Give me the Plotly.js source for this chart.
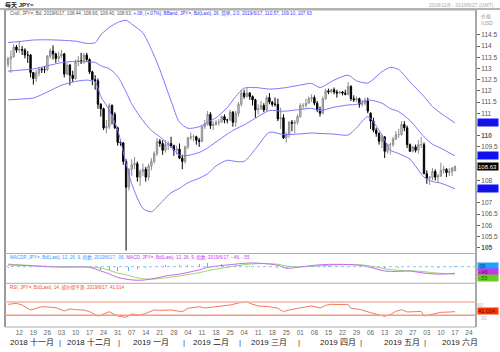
<!DOCTYPE html>
<html><head><meta charset="utf-8">
<script src="https://cdn.plot.ly/plotly-3.0.1.min.js"></script>
<style>html,body{margin:0;padding:0;background:#fff;}#chart{width:500px;height:352px;}</style>
</head><body><div id="chart"></div>
<script>
const dates = ["2018-11-06","2018-11-07","2018-11-08","2018-11-09","2018-11-12","2018-11-13","2018-11-14","2018-11-15","2018-11-16","2018-11-19","2018-11-20","2018-11-21","2018-11-22","2018-11-23","2018-11-26","2018-11-27","2018-11-28","2018-11-29","2018-11-30","2018-12-03","2018-12-04","2018-12-05","2018-12-06","2018-12-07","2018-12-10","2018-12-11","2018-12-12","2018-12-13","2018-12-14","2018-12-17","2018-12-18","2018-12-19","2018-12-20","2018-12-21","2018-12-24","2018-12-25","2018-12-26","2018-12-27","2018-12-28","2018-12-31","2019-01-01","2019-01-02","2019-01-03","2019-01-04","2019-01-07","2019-01-08","2019-01-09","2019-01-10","2019-01-11","2019-01-14","2019-01-15","2019-01-16","2019-01-17","2019-01-18","2019-01-21","2019-01-22","2019-01-23","2019-01-24","2019-01-25","2019-01-28","2019-01-29","2019-01-30","2019-01-31","2019-02-01","2019-02-04","2019-02-05","2019-02-06","2019-02-07","2019-02-08","2019-02-11","2019-02-12","2019-02-13","2019-02-14","2019-02-15","2019-02-18","2019-02-19","2019-02-20","2019-02-21","2019-02-22","2019-02-25","2019-02-26","2019-02-27","2019-02-28","2019-03-01","2019-03-04","2019-03-05","2019-03-06","2019-03-07","2019-03-08","2019-03-11","2019-03-12","2019-03-13","2019-03-14","2019-03-15","2019-03-18","2019-03-19","2019-03-20","2019-03-21","2019-03-22","2019-03-25","2019-03-26","2019-03-27","2019-03-28","2019-03-29","2019-04-01","2019-04-02","2019-04-03","2019-04-04","2019-04-05","2019-04-08","2019-04-09","2019-04-10","2019-04-11","2019-04-12","2019-04-15","2019-04-16","2019-04-17","2019-04-18","2019-04-19","2019-04-22","2019-04-23","2019-04-24","2019-04-25","2019-04-26","2019-04-29","2019-04-30","2019-05-01","2019-05-02","2019-05-03","2019-05-06","2019-05-07","2019-05-08","2019-05-09","2019-05-10","2019-05-13","2019-05-14","2019-05-15","2019-05-16","2019-05-17","2019-05-20","2019-05-21","2019-05-22","2019-05-23","2019-05-24","2019-05-27","2019-05-28","2019-05-29","2019-05-30","2019-05-31","2019-06-03","2019-06-04","2019-06-05","2019-06-06","2019-06-07","2019-06-10","2019-06-11","2019-06-12","2019-06-13","2019-06-14","2019-06-17"];
const openP = [113.18,113.43,113.52,113.96,113.82,113.85,113.82,113.60,113.60,112.82,112.55,112.80,112.98,112.95,112.95,113.55,113.78,113.65,113.45,113.55,113.65,112.75,113.15,112.70,112.55,113.30,113.35,113.30,113.60,113.40,112.85,112.50,112.45,111.40,111.20,110.35,110.40,111.35,110.95,110.35,109.70,109.68,108.85,107.70,108.50,108.70,108.75,108.15,108.40,108.50,108.15,108.65,108.85,109.20,109.75,109.65,109.35,109.60,109.65,109.55,109.35,109.40,109.00,108.85,109.50,109.90,109.95,109.95,109.80,109.75,110.40,110.50,110.95,110.45,110.50,110.60,110.60,110.85,110.70,110.70,111.05,110.60,111.00,111.40,111.90,111.75,111.90,111.75,111.60,111.15,111.20,111.35,111.15,111.70,111.50,111.40,111.40,110.75,110.80,109.90,110.05,110.60,110.55,110.60,110.85,111.35,111.35,111.45,111.65,111.70,111.45,111.15,111.00,111.65,112.00,111.95,112.05,111.95,111.90,111.95,111.90,111.85,112.20,111.65,111.60,111.65,111.40,111.45,111.55,111.00,110.65,110.25,110.10,109.75,109.95,109.30,109.60,109.60,109.85,110.05,110.05,110.50,110.35,109.60,109.30,109.50,109.35,109.60,109.60,108.30,108.10,108.15,108.40,108.15,108.20,108.45,108.50,108.35,108.40,108.44];
const highP = [113.52,113.80,114.08,114.05,114.21,114.00,113.90,113.78,113.65,112.85,112.95,113.08,113.05,113.10,113.60,113.90,114.03,113.70,113.75,113.83,113.70,113.25,113.20,112.90,113.40,113.55,113.70,113.70,113.70,113.45,112.90,112.70,112.55,111.45,111.25,110.70,111.45,111.40,111.05,110.40,109.75,109.70,108.95,108.55,108.95,109.05,108.85,108.50,108.75,108.60,108.75,109.00,109.30,109.90,109.85,109.80,109.80,109.75,109.95,109.60,109.55,109.65,109.15,109.55,109.95,110.15,110.05,110.00,109.90,110.45,110.70,111.10,111.05,110.65,110.70,110.75,110.90,110.95,110.75,111.15,111.10,111.10,111.50,112.05,112.05,112.13,111.95,111.80,111.65,111.40,111.55,111.45,111.80,111.90,111.55,111.70,111.65,111.25,110.95,110.15,110.65,110.70,110.70,110.95,111.45,111.45,111.65,111.75,111.85,111.80,111.55,111.30,111.75,112.10,112.10,112.10,112.15,112.05,112.00,112.00,112.05,112.40,112.25,111.80,111.75,111.70,111.60,111.70,111.70,111.05,110.80,110.35,110.15,110.05,109.95,109.65,109.70,109.95,110.20,110.30,110.65,110.65,110.45,109.65,109.55,109.60,109.80,109.95,109.70,108.45,108.20,108.55,108.50,108.30,108.80,108.65,108.55,108.55,108.60,108.66];
const lowP = [113.05,112.80,113.48,113.70,113.70,113.60,113.45,113.25,112.60,112.28,112.40,112.65,112.80,112.80,112.88,113.45,113.40,113.25,113.30,113.45,112.60,112.70,112.25,112.40,112.50,113.10,113.20,113.20,113.30,112.75,112.25,112.05,111.20,110.85,110.25,110.10,110.30,110.50,110.30,109.55,109.55,108.70,104.87,107.55,108.20,108.50,107.95,107.75,108.20,107.95,108.00,108.45,108.75,109.10,109.50,109.15,109.25,109.35,109.45,109.10,109.15,108.95,108.50,108.75,109.40,109.80,109.75,109.60,109.50,109.70,110.30,110.45,110.30,110.25,110.45,110.45,110.60,110.55,110.55,110.65,110.40,110.40,110.85,111.30,111.65,111.70,111.60,111.35,110.80,110.95,111.15,111.05,111.10,111.40,111.30,111.30,110.65,110.30,109.85,109.70,109.90,110.20,110.10,110.50,110.80,111.20,111.25,111.45,111.50,111.35,111.05,110.85,110.95,111.60,111.85,111.90,111.85,111.70,111.85,111.80,111.80,111.80,111.55,111.50,111.50,111.25,111.30,111.35,111.00,110.30,110.15,109.95,109.60,109.45,109.00,109.20,109.15,109.50,109.80,109.90,110.00,110.20,109.45,109.30,109.25,109.25,109.20,109.45,108.30,107.85,107.80,108.00,108.00,107.90,108.15,108.30,108.15,108.20,108.20,108.40];
const closeP = [113.43,113.52,113.96,113.82,113.85,113.82,113.60,113.60,112.82,112.55,112.80,112.98,112.95,112.95,113.55,113.78,113.65,113.45,113.55,113.65,112.75,113.15,112.70,112.55,113.30,113.35,113.30,113.60,113.40,112.85,112.50,112.45,111.40,111.20,110.35,110.40,111.35,110.95,110.35,109.70,109.68,108.85,107.70,108.50,108.70,108.75,108.15,108.40,108.50,108.15,108.65,108.85,109.20,109.75,109.65,109.35,109.60,109.65,109.55,109.35,109.40,109.00,108.85,109.50,109.90,109.95,109.95,109.80,109.75,110.40,110.50,110.95,110.45,110.50,110.60,110.60,110.85,110.70,110.70,111.05,110.60,111.00,111.40,111.90,111.75,111.90,111.75,111.60,111.15,111.20,111.35,111.15,111.70,111.50,111.40,111.40,110.75,110.80,109.90,110.05,110.60,110.55,110.60,110.85,111.35,111.35,111.45,111.65,111.70,111.45,111.15,111.00,111.65,112.00,111.95,112.05,111.95,111.90,111.95,111.90,111.85,112.20,111.65,111.60,111.65,111.40,111.45,111.55,111.10,110.65,110.25,110.10,109.75,109.95,109.30,109.60,109.60,109.85,110.05,110.05,110.50,110.35,109.60,109.30,109.50,109.35,109.60,109.60,108.30,108.10,108.15,108.40,108.15,108.20,108.45,108.50,108.35,108.40,108.55,108.63];

const bandDates = ["2018-11-06","2018-11-12","2018-11-19","2018-11-26","2018-12-03","2018-12-10","2018-12-14","2018-12-19","2018-12-21","2018-12-26","2018-12-31","2019-01-03","2019-01-07","2019-01-11","2019-01-16","2019-01-21","2019-01-25","2019-01-30","2019-02-04","2019-02-08","2019-02-13","2019-02-18","2019-02-22","2019-02-27","2019-03-04","2019-03-08","2019-03-15","2019-03-22","2019-04-01","2019-04-05","2019-04-10","2019-04-17","2019-04-24","2019-04-29","2019-05-03","2019-05-10","2019-05-15","2019-05-20","2019-05-24","2019-05-31","2019-06-05","2019-06-10","2019-06-17"];
const bandUpper = [114.16,114.20,114.27,114.28,114.26,114.22,114.12,114.15,114.50,114.83,115.05,115.15,114.98,114.58,113.85,112.95,111.55,110.60,110.33,110.40,110.60,110.80,111.25,111.75,112.12,112.15,112.08,112.13,112.26,112.33,112.15,112.48,112.70,112.45,112.35,112.85,113.05,112.95,112.40,111.75,111.30,111.00,110.57];
const bandMid = [112.88,112.92,112.98,113.12,113.26,113.32,113.30,113.27,113.12,112.99,112.65,111.95,111.42,110.67,110.23,109.95,109.50,109.13,109.12,109.25,109.45,109.72,110.07,110.30,110.48,110.78,111.12,111.09,111.17,111.22,111.12,111.27,111.37,111.40,111.60,111.45,111.21,111.07,110.68,109.95,109.62,109.44,109.10];
const bandLower = [111.60,111.63,111.68,111.95,112.25,112.42,112.48,112.40,111.75,111.15,110.25,108.75,107.85,106.75,106.60,106.95,107.45,107.65,107.90,108.10,108.30,108.65,108.90,108.85,108.85,109.40,110.15,110.05,110.08,110.12,110.10,110.07,110.03,110.35,110.85,110.05,109.36,109.20,108.95,108.15,107.95,107.88,107.63];

const macdDates = ["2018-11-06","2018-11-12","2018-11-19","2018-11-26","2018-12-03","2018-12-10","2018-12-17","2018-12-21","2018-12-26","2018-12-31","2019-01-04","2019-01-09","2019-01-14","2019-01-18","2019-01-23","2019-01-30","2019-02-04","2019-02-08","2019-02-13","2019-02-20","2019-02-27","2019-03-06","2019-03-13","2019-03-20","2019-03-25","2019-04-01","2019-04-08","2019-04-15","2019-04-24","2019-05-01","2019-05-07","2019-05-13","2019-05-20","2019-05-24","2019-05-31","2019-06-07","2019-06-17"];
const macdLine = [0.12,0.10,0.05,0.00,-0.03,-0.02,-0.05,-0.30,-0.50,-0.75,-0.90,-0.95,-0.92,-0.78,-0.65,-0.52,-0.40,-0.22,-0.05,0.08,0.18,0.26,0.22,0.10,-0.10,-0.02,0.10,0.16,0.15,0.08,-0.10,-0.30,-0.33,-0.30,-0.45,-0.52,-0.46];
const macdSignal = [0.18,0.13,0.08,0.03,0.01,0.00,-0.02,-0.10,-0.25,-0.45,-0.62,-0.78,-0.86,-0.85,-0.78,-0.65,-0.55,-0.42,-0.28,-0.10,0.05,0.18,0.22,0.17,0.05,0.00,0.04,0.10,0.15,0.12,0.02,-0.15,-0.25,-0.28,-0.35,-0.45,-0.52];
const macdHist = [-0.06,-0.03,-0.03,-0.03,-0.04,-0.02,-0.03,-0.20,-0.25,-0.30,-0.28,-0.17,-0.06,0.07,0.13,0.13,0.15,0.20,0.23,0.18,0.13,0.08,0.00,-0.07,-0.15,-0.02,0.06,0.06,0.00,-0.04,-0.12,-0.15,-0.08,-0.02,-0.10,-0.07,0.06];

const rsiDates = ["2018-11-06","2018-11-09","2018-11-13","2018-11-16","2018-11-20","2018-11-22","2018-11-26","2018-11-29","2018-12-04","2018-12-06","2018-12-10","2018-12-13","2018-12-17","2018-12-20","2018-12-21","2018-12-26","2018-12-28","2018-12-31","2019-01-03","2019-01-07","2019-01-10","2019-01-14","2019-01-17","2019-01-21","2019-01-25","2019-01-31","2019-02-04","2019-02-08","2019-02-12","2019-02-18","2019-02-25","2019-02-28","2019-03-05","2019-03-06","2019-03-11","2019-03-15","2019-03-20","2019-03-22","2019-03-26","2019-03-29","2019-04-03","2019-04-05","2019-04-10","2019-04-12","2019-04-16","2019-04-19","2019-04-24","2019-04-25","2019-04-30","2019-05-06","2019-05-09","2019-05-13","2019-05-15","2019-05-17","2019-05-21","2019-05-23","2019-05-28","2019-05-30","2019-05-31","2019-06-05","2019-06-10","2019-06-13","2019-06-17"];
const rsiValues = [63,66,61,46,51,56,55,53,43,49,47,46,41,28,30,41,32,28,24,34,31,36,46,45,46,41,51,56,52,55,61,67,71,66,58,56,51,41,46,51,56,58,52,60,63,63,62,51,48,38,30,27,32,42,47,40,41,42,28,34,39,40,41.014];

const xTickDates = ["2018-11-12","2018-11-19","2018-11-26","2018-12-03","2018-12-10","2018-12-17","2018-12-24","2018-12-31","2019-01-07","2019-01-14","2019-01-21","2019-01-28","2019-02-04","2019-02-11","2019-02-18","2019-02-25","2019-03-04","2019-03-11","2019-03-18","2019-03-25","2019-04-01","2019-04-08","2019-04-15","2019-04-22","2019-04-29","2019-05-06","2019-05-13","2019-05-20","2019-05-27","2019-06-03","2019-06-10","2019-06-17","2019-06-24"];
const xTickLabels = ["12","19","26","03","10","17","24","31","07","14","21","28","04","11","18","25","04","11","18","25","01","08","15","22","29","06","13","20","27","03","10","17","24"];
const yTickValues = [105,105.5,106,106.5,107,107.5,108,108.5,109,109.5,110,110.5,111,111.5,112,112.5,113,113.5,114,114.5];
// labels hidden in the reference behind the coloured value boxes
const yTickHidden = [107.5,108.5,109,110.5];
const monthLabels = ["2018 十一月","2018 十二月","2019 一月","2019 二月","2019 三月","2019 四月","2019 五月","2019 六月"];
const monthCenters = ["2018-11-16 12:00","2018-12-14 19:00","2019-01-15 20:00","2019-02-14 05:00","2019-03-14 19:00","2019-04-18 10:00","2019-05-21 02:00","2019-06-18 19:00"];
const monthSeparators = ["2018-11-30 12:00","2018-12-31 12:00","2019-01-31 12:00","2019-02-28 12:00","2019-03-29 12:00","2019-04-30 12:00","2019-05-31 12:00"];

const FONT = "Liberation Sans, Arial, 'Noto Sans CJK SC', sans-serif";
const W = 500, H = 352, ML = 5, MR = 24, MT = 10, MB = 25;
const PW = W - ML - MR, PH = H - MT - MB;
const px = x => (x - ML) / PW;
const py = y => (H - MB - y) / PH;

const traces = [
  {type:'candlestick', x:dates, open:openP, high:highP, low:lowP, close:closeP, xaxis:'x', yaxis:'y',
   increasing:{line:{color:'#8c8c8c', width:1}, fillcolor:'#dadada'},
   decreasing:{line:{color:'#000000', width:1}, fillcolor:'#000000'},
   whiskerwidth:0, hoverinfo:'skip', showlegend:false},
  {type:'scatter', mode:'lines', x:bandDates, y:bandUpper, yaxis:'y', line:{color:'#7878ff', width:1, shape:'spline', smoothing:0.7}, hoverinfo:'skip', showlegend:false},
  {type:'scatter', mode:'lines', x:bandDates, y:bandMid, yaxis:'y', line:{color:'#7878ff', width:1, shape:'spline', smoothing:0.7}, hoverinfo:'skip', showlegend:false},
  {type:'scatter', mode:'lines', x:bandDates, y:bandLower, yaxis:'y', line:{color:'#7878ff', width:1, shape:'spline', smoothing:0.7}, hoverinfo:'skip', showlegend:false},
  {type:'bar', x:macdDates, y:macdHist, yaxis:'y2', marker:{color:'#5aaaf0'}, width:30000000, hoverinfo:'skip', showlegend:false},
  {type:'scatter', mode:'lines', x:macdDates, y:macdSignal, yaxis:'y2', line:{color:'#9ad868', width:1, shape:'spline'}, hoverinfo:'skip', showlegend:false},
  {type:'scatter', mode:'lines', x:macdDates, y:macdLine, yaxis:'y2', line:{color:'#cc66ee', width:1, shape:'spline'}, hoverinfo:'skip', showlegend:false},
  {type:'scatter', mode:'lines', x:rsiDates, y:rsiValues, yaxis:'y3', line:{color:'#f27a5c', width:1}, hoverinfo:'skip', showlegend:false}
];

const mainBot = py(253.5), macdBot = py(283.3);

const shapes = [
  {type:'line', xref:'paper', yref:'paper', x0:px(0), x1:px(500), y0:py(9), y1:py(9), line:{color:'#b5b5b5', width:2}},
  {type:'rect', xref:'paper', yref:'paper', x0:0, x1:1, y0:0, y1:1, line:{color:'#aaaaaa', width:1}},
  {type:'line', xref:'paper', yref:'paper', x0:0, x1:0, y0:0, y1:1, line:{color:'#9a9a9a', width:2}},
  {type:'line', xref:'paper', yref:'paper', x0:1, x1:1, y0:0, y1:1, line:{color:'#a8a8a8', width:2}},
  {type:'line', xref:'paper', yref:'paper', x0:0, x1:1, y0:mainBot, y1:mainBot, line:{color:'#b0b0b0', width:1}},
  {type:'line', xref:'paper', yref:'paper', x0:0, x1:1, y0:macdBot, y1:macdBot, line:{color:'#b0b0b0', width:1}},
  {type:'line', xref:'paper', yref:'y3', x0:0, x1:1, y0:70, y1:70, line:{color:'#f7b3a3', width:1.5}},
  {type:'line', xref:'paper', yref:'y3', x0:0, x1:1, y0:30, y1:30, line:{color:'#f39a86', width:1.5}},
  {type:'line', xref:'paper', yref:'y2', x0:0, x1:1, y0:0, y1:0, line:{color:'#8cc4f2', width:1, dash:'dot'}}
];

const ann = [];
ann.push({xref:'paper', yref:'paper', x:px(3), y:py(5), xanchor:'left', yanchor:'middle', showarrow:false, text:'<b>每天 JPY=</b>', font:{family:FONT, size:6, color:'#222'}});
ann.push({xref:'paper', yref:'paper', x:px(496), y:py(5), xanchor:'right', yanchor:'middle', showarrow:false, text:'2018/11/6 - 2019/6/27 (GMT)', font:{family:FONT, size:5, color:'#aaaaaa'}});
ann.push({xref:'paper', yref:'paper', x:px(8), y:py(13), xanchor:'left', yanchor:'middle', showarrow:false,
  text:"<span style='color:#555'>Cndl, JPY=, Bd, 2019/6/17, 108.44, 108.66, 108.40, 108.63, </span><span style='color:#3a3aff'>+.08, (+.07%), BBand, JPY=, Bd(Last), 26, 简单, 2.0, 2019/6/17, 110.57, 109.10, 107.63</span>",
  font:{family:FONT, size:4.6, color:'#555'}});
ann.push({xref:'paper', yref:'paper', x:px(8), y:py(257), xanchor:'left', yanchor:'middle', showarrow:false,
  text:"<span style='color:#3399ff'>MACDP, JPY=, Bd(Last), 12, 26, 9, 指数, 2019/6/17, .06, </span><span style='color:#c040f0'>MACD, JPY=, Bd(Last), 12, 26, 9, 指数, 2019/6/17, -.46, -.55</span>",
  font:{family:FONT, size:4.6, color:'#3399ff'}});
ann.push({xref:'paper', yref:'paper', x:px(8), y:py(287), xanchor:'left', yanchor:'middle', showarrow:false,
  text:"RSI, JPY=, Bd(Last), 14, 威尔德平滑, 2019/6/17, 41.014", font:{family:FONT, size:4.6, color:'#f0502a'}});
ann.push({xref:'paper', yref:'paper', x:px(479), y:py(17), xanchor:'left', yanchor:'middle', showarrow:false, text:'价格', font:{family:FONT, size:5, color:'#999'}});
ann.push({xref:'paper', yref:'paper', x:px(479), y:py(23), xanchor:'left', yanchor:'middle', showarrow:false, text:'/USD', font:{family:FONT, size:5, color:'#999'}});
ann.push({xref:'paper', yref:'paper', x:px(479), y:py(318), xanchor:'left', yanchor:'middle', showarrow:false, text:'30', font:{family:FONT, size:5, color:'#bbbbbb'}});

const boxValues = [110.57,109.10,108.63,107.63];
const boxText = ['110.57','109.10','108.63','107.63'];
const boxBg = ['#1010ff','#1010ff','#000000','#1010ff'];
const boxFc = ['#1a1a80','#1a1a80','#ffffff','#1a1a80'];
boxValues.forEach((v,i)=>ann.push({xref:'paper', yref:'y', x:px(477), y:v, xanchor:'left', yanchor:'middle', showarrow:false,
  text:boxText[i], bgcolor:boxBg[i], width:20, height:7, align:'left', borderpad:0, font:{family:FONT, size:6, color:boxFc[i]}}));
ann.push({xref:'paper', yref:'paper', x:px(477), y:py(266), xanchor:'left', yanchor:'middle', showarrow:false, text:'.06', bgcolor:'#1ea0ff', width:20, height:6, align:'left', borderpad:0, font:{family:FONT, size:5.5, color:'#0a3a80'}});
ann.push({xref:'paper', yref:'paper', x:px(477), y:py(272), xanchor:'left', yanchor:'middle', showarrow:false, text:'-.46', bgcolor:'#cc33ee', width:20, height:6, align:'left', borderpad:0, font:{family:FONT, size:5.5, color:'#5a1070'}});
ann.push({xref:'paper', yref:'paper', x:px(477), y:py(277.5), xanchor:'left', yanchor:'middle', showarrow:false, text:'-.55', bgcolor:'#66cc22', width:20, height:6, align:'left', borderpad:0, font:{family:FONT, size:5.5, color:'#2a6010'}});
ann.push({xref:'paper', yref:'paper', x:px(477), y:py(311), xanchor:'left', yanchor:'middle', showarrow:false, text:'41.014', bgcolor:'#ff3300', width:20, height:6, align:'left', borderpad:0, font:{family:FONT, size:5.5, color:'#5a1000'}});

monthLabels.forEach((m,i)=>ann.push({xref:'x', yref:'paper', x:monthCenters[i], y:py(342), xanchor:'center', yanchor:'middle', showarrow:false, text:m, font:{family:FONT, size:8, color:'#222'}}));
monthSeparators.forEach(s=>ann.push({xref:'x', yref:'paper', x:s, y:py(342), xanchor:'center', yanchor:'middle', showarrow:false, text:'|', font:{family:FONT, size:8, color:'#444'}}));

const yTickText = yTickValues.map(v => yTickHidden.includes(v) ? '' : ((v===110||v===105) ? '<b>'+v+'</b>' : String(v)));

const layout = {
  width:W, height:H, margin:{l:ML, r:MR, t:MT, b:MB, pad:0},
  paper_bgcolor:'#ffffff', plot_bgcolor:'#ffffff', showlegend:false, bargap:0,
  font:{family:FONT, size:7, color:'#555'},
  xaxis:{type:'date', anchor:'y3', range:['2018-11-02 22:00','2019-06-26 12:00'],
    rangebreaks:[{bounds:['sat','mon']}], rangeslider:{visible:false},
    tickmode:'array', tickvals:xTickDates, ticktext:xTickLabels, ticks:'', tickfont:{family:FONT, size:6.5, color:'#666'},
    showgrid:false, zeroline:false, showline:false, fixedrange:true},
  yaxis:{domain:[mainBot,1], range:[104.74,115.61], side:'right', anchor:'x', tickmode:'array', tickvals:yTickValues, ticktext:yTickText,
    ticks:'outside', ticklen:3, tickcolor:'#666', tickfont:{family:FONT, size:6.5, color:'#555'},
    showgrid:false, zeroline:false, showline:false, fixedrange:true},
  yaxis2:{domain:[macdBot,mainBot], range:[-1.161,0.923], anchor:'x', showticklabels:false, ticks:'', showgrid:false, zeroline:false, showline:false, fixedrange:true},
  yaxis3:{domain:[0,macdBot], range:[-5,126.1], anchor:'x', side:'right', tickmode:'array', tickvals:[60], ticks:'', tickfont:{family:FONT, size:5.5, color:'#bbbbbb'}, showgrid:false, zeroline:false, showline:false, fixedrange:true},
  shapes:shapes, annotations:ann
};

Plotly.newPlot('chart', traces, layout, {staticPlot:true, displayModeBar:false});
</script></body></html>
